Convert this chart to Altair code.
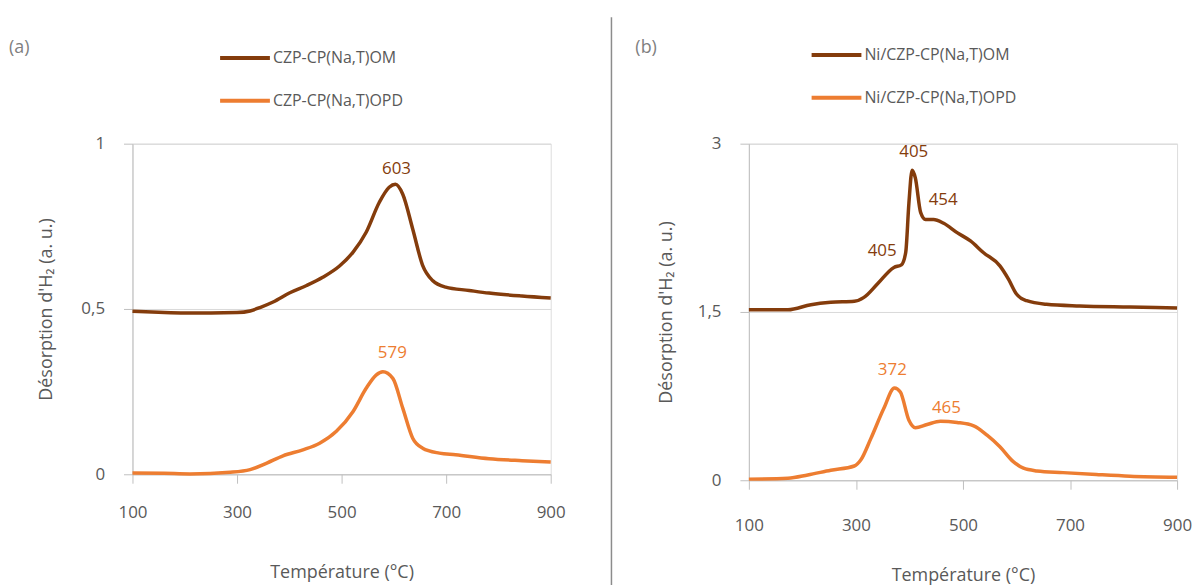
import altair as alt
import pandas as pd

# ---------------- data ----------------
# Panel (a)
a_om_T = [100, 150, 200, 250, 300, 325, 345, 369, 401, 433, 464, 496, 522, 547, 572, 591, 603,
          617, 636, 655, 674, 699, 744, 782, 845, 900]
a_om_v = [0.493, 0.490, 0.488, 0.488, 0.489, 0.494, 0.505, 0.521, 0.549, 0.571, 0.596, 0.630,
          0.672, 0.732, 0.822, 0.868, 0.877, 0.847, 0.742, 0.632, 0.586, 0.566, 0.556, 0.548,
          0.539, 0.533]
a_opd_T = [100, 160, 210, 287, 325, 357, 388, 426, 458, 490, 522, 547, 566, 579, 598, 617,
           636, 655, 687, 718, 782, 845, 900]
a_opd_v = [0.004, 0.003, 0.001, 0.006, 0.014, 0.034, 0.056, 0.074, 0.094, 0.130, 0.190, 0.260,
           0.300, 0.310, 0.290, 0.200, 0.109, 0.079, 0.064, 0.059, 0.047, 0.041, 0.037]

# Panel (b)
b_om_T = [100, 173, 216, 253, 297, 315, 340, 371, 385, 393, 399, 405, 411, 421, 430, 445,
          464, 489, 514, 538, 569, 585, 600, 619, 656, 718, 812, 900]
b_om_v = [1.520, 1.520, 1.565, 1.586, 1.595, 1.630, 1.749, 1.897, 1.920, 2.030, 2.470, 2.763,
          2.695, 2.385, 2.325, 2.325, 2.290, 2.207, 2.133, 2.030, 1.911, 1.793, 1.660, 1.600,
          1.568, 1.553, 1.544, 1.536]
b_opd_T = [100, 173, 210, 253, 297, 309, 328, 352, 372, 383, 399, 411, 433, 458, 489, 520,
           545, 569, 594, 613, 638, 687, 749, 812, 900]
b_opd_v = [0.010, 0.018, 0.047, 0.089, 0.127, 0.180, 0.373, 0.639, 0.823, 0.787, 0.535, 0.468,
           0.497, 0.526, 0.515, 0.485, 0.402, 0.299, 0.166, 0.107, 0.083, 0.068, 0.051, 0.036, 0.027]

a_series = ["CZP-CP(Na,T)OM", "CZP-CP(Na,T)OPD"]
b_series = ["Ni/CZP-CP(Na,T)OM", "Ni/CZP-CP(Na,T)OPD"]

# peak labels: (T, value, text, series index)
a_lab_T = [605, 597]
a_lab_v = [0.923, 0.368]
a_lab_txt = ["603", "579"]
a_lab_s = [0, 1]

b_lab_T = [408, 463, 349, 368, 469]
b_lab_v = [2.923, 2.494, 2.044, 0.979, 0.645]
b_lab_txt = ["405", "454", "405", "372", "465"]
b_lab_s = [0, 0, 0, 1, 1]

x_ticks = [100, 300, 500, 700, 900]
a_y_ticks = [0, 0.5, 1]
b_y_ticks = [0, 1.5, 3]

colors = ["#843C0C", "#ED7D31"]
FONT = "Open Sans"
GREY = "#595959"

# ---------------- build ----------------
def frame(T1, v1, T2, v2, names):
    d1 = pd.DataFrame({"T": T1, "v": v1, "s": names[0], "o": 0})
    d2 = pd.DataFrame({"T": T2, "v": v2, "s": names[1], "o": 1})
    return pd.concat([d1, d2], ignore_index=True)


def panel(df, names, lab_T, lab_v, lab_txt, lab_s, yticks, ymax, w, h,
          legx, legy, row_pad, letter, letter_x, title_x, lab_pad, title_pad):
    xs = alt.Scale(domain=[100, 900], nice=False, zero=False)
    ys = alt.Scale(domain=[0, ymax], nice=False)
    xax = alt.Axis(values=x_ticks, title="Température (°C)", grid=False,
                   tickSize=9, labelPadding=lab_pad, titlePadding=title_pad, labelFlush=False,
                   labelFontSize=17, titleFontSize=18, titleFontWeight="normal",
                   labelColor=GREY, titleColor=GREY,
                   domainColor="#BFBFBF", tickColor="#BFBFBF", labelFont=FONT, titleFont=FONT)
    yax = alt.Axis(values=yticks, title="Désorption d'H₂ (a. u.)", grid=True,
                   gridColor="#D9D9D9", tickSize=9, labelPadding=19, labelFlush=False,
                   labelExpr="replace(toString(datum.value), '.', ',')",
                   labelFontSize=17, titleFontSize=18, titleFontWeight="normal",
                   labelColor=GREY, titleColor=GREY,
                   titleX=title_x, titleY=h / 2, titleBaseline="middle", titleAngle=270,
                   domainColor="#BFBFBF", tickColor="#BFBFBF", labelFont=FONT, titleFont=FONT)
    lines = alt.Chart(df).mark_line(strokeWidth=3.5, interpolate="monotone").encode(
        x=alt.X("T:Q", scale=xs, axis=xax),
        y=alt.Y("v:Q", scale=ys, axis=yax),
        color=alt.Color("s:N", scale=alt.Scale(domain=names, range=colors),
                        sort=names,
                        legend=alt.Legend(title=None, orient="none", legendX=legx, legendY=legy,
                                          symbolType="stroke", symbolSize=2500,
                                          symbolStrokeWidth=4, labelFontSize=16,
                                          labelFont=FONT, labelColor=GREY, labelOffset=1,
                                          rowPadding=row_pad, padding=0)),
        order="o:Q",
        detail="s:N",
    )
    layers = [lines]
    for i in range(2):
        ld = pd.DataFrame({"T": [t for t, s in zip(lab_T, lab_s) if s == i],
                           "v": [v for v, s in zip(lab_v, lab_s) if s == i],
                           "t": [x for x, s in zip(lab_txt, lab_s) if s == i]})
        layers.append(alt.Chart(ld).mark_text(fontSize=17, font=FONT, color=colors[i]).encode(
            x=alt.X("T:Q", scale=xs), y=alt.Y("v:Q", scale=ys), text="t:N"))
    # panel letter
    layers.append(alt.Chart(pd.DataFrame({"t": [letter]})).mark_text(
        fontSize=18, font=FONT, color="#7F7F7F", align="left", baseline="middle").encode(
        x=alt.value(letter_x), y=alt.value(-96), text="t:N"))
    return alt.layer(*layers).properties(width=w, height=h)


dfa = frame(a_om_T, a_om_v, a_opd_T, a_opd_v, a_series)
dfb = frame(b_om_T, b_om_v, b_opd_T, b_opd_v, b_series)

pa = panel(dfa, a_series, a_lab_T, a_lab_v, a_lab_txt, a_lab_s, a_y_ticks, 1.0, 420, 332,
           86, -113, 8, "(a)", -124, -86, 21, 44)
# separator line between the panels, drawn with panel (a)
sep = alt.Chart(pd.DataFrame({"k": [0]})).mark_rule(color="#8C8C8C", strokeWidth=1.5).encode(
    x=alt.value(481), y=alt.value(-127), y2=alt.value(450))
pa = alt.layer(pa, sep)

pb = panel(dfb, b_series, b_lab_T, b_lab_v, b_lab_txt, b_lab_s, b_y_ticks, 3.0, 430, 338,
           61, -116, 8, "(b)", -114, -83, 28, 34)

chart = alt.hconcat(pa, pb, spacing=199, bounds="flush").resolve_scale(
    color="independent", x="independent", y="independent"
).resolve_legend(color="independent").properties(
    padding={"left": 0, "top": 6, "right": 0, "bottom": 0}
).configure_view(stroke="#D9D9D9", strokeWidth=1).configure(font=FONT)

chart.save("out.html", embed_options={"renderer": "svg", "actions": False})
